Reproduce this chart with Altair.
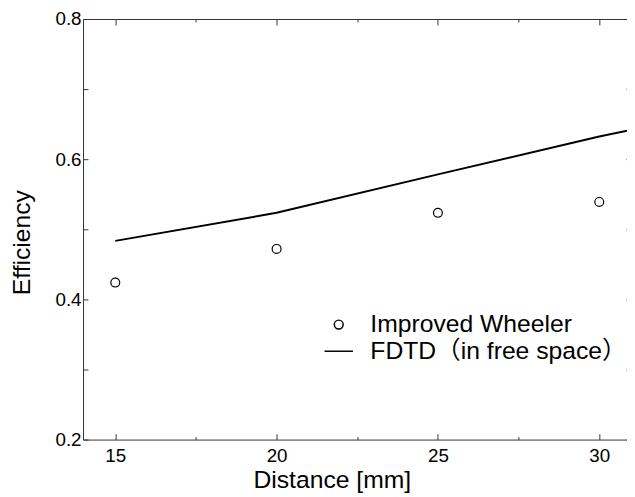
import altair as alt
import pandas as pd

# ---- data ----
wheeler_distance = [15, 20, 25, 30]
wheeler_efficiency = [0.424, 0.472, 0.5235, 0.539]

fdtd_distance = [15, 20, 25, 30, 31]
fdtd_efficiency = [0.4835, 0.5235, 0.5784, 0.6324, 0.642]

series_names = ["Improved Wheeler", "FDTD\uff08in free space\uff09"]

x_label_values = [15, 20, 25, 30]
x_tick_values = [15, 17.5, 20, 22.5, 25, 27.5, 30]
y_label_values = [0.2, 0.4, 0.6, 0.8]
y_tick_values = [0.2, 0.3, 0.4, 0.5, 0.6, 0.7, 0.8]

FONT = "Liberation Sans, Arial, Noto Sans CJK JP"
W, H = 551, 426
AX = "#333333"

fdtd_df = pd.DataFrame({"d": fdtd_distance, "e": fdtd_efficiency})
wheeler_df = pd.DataFrame({"d": wheeler_distance, "e": wheeler_efficiency,
                           "series": [series_names[0]] * len(wheeler_distance)})

xscale = alt.Scale(domain=[14, 30.86], nice=False, zero=False)
yscale = alt.Scale(domain=[0.2, 0.8], nice=False, zero=False)

x_major_cond = {"condition": {"test": "datum.value % 5 === 0", "value": 6}, "value": 3}

# layer 1: line + labelled axes (bottom / left)
line = alt.Chart(fdtd_df).mark_line(color="black", strokeWidth=2, clip=True).encode(
    x=alt.X("d:Q", scale=xscale, axis=alt.Axis(
        orient="bottom", values=x_label_values, format="d", ticks=False, tickSize=0,
        domain=True, domainColor=AX, domainWidth=1, grid=False,
        labelPadding=7, labelFontSize=19, labelColor="black", labelFlush=False,
        labelOverlap=False,
        title="Distance [mm]", titleFontSize=25, titleFontWeight="normal",
        titleColor="black", titleX=252, titleY=49, titleAngle=0,
        titleBaseline="alphabetic", titleAlign="center")),
    y=alt.Y("e:Q", scale=yscale, axis=alt.Axis(
        orient="left", values=y_label_values, format=".1f", ticks=False, tickSize=0,
        domain=True, domainColor=AX, domainWidth=1, grid=False,
        labelPadding=2, labelFontSize=19, labelColor="black", labelFlush=False,
        labelOverlap=False,
        title="Efficiency", titleFontSize=25, titleFontWeight="normal",
        titleColor="black", titleX=-54, titleY=226, titleAngle=270,
        titleBaseline="alphabetic", titleAlign="center")),
)

# layer 2: points + inward ticks on bottom and left edges + legend
points = alt.Chart(wheeler_df).mark_point(
    filled=False, color="black", strokeWidth=1.2, size=81, opacity=1
).encode(
    x=alt.X("d:Q", scale=xscale, title=None, axis=alt.Axis(
        orient="top", offset=-H, values=x_tick_values, labels=False, domain=False,
        grid=False, ticks=True, tickColor=AX, tickWidth=1, tickSize=x_major_cond)),
    y=alt.Y("e:Q", scale=yscale, title=None, axis=alt.Axis(
        orient="right", offset=-W, values=y_tick_values, labels=False, domain=False,
        grid=False, ticks=True, tickColor=AX, tickWidth=1, tickSize=5)),
    shape=alt.Shape("series:N", scale=alt.Scale(
        domain=series_names, range=["circle", "M-3.2,0H3.2"]),
        legend=alt.Legend(
            orient="none", legendX=246.5, legendY=297, title=None, padding=0,
            labelFontSize=25, labelFont=FONT, labelColor="black", labelOffset=19.5,
            symbolSize=81, symbolStrokeColor="black", symbolFillColor="transparent",
            symbolStrokeWidth=1.5, rowPadding=1, labelLimit=400)),
)

# layer 3: invisible marks carrying the top frame and the right-edge ticks
frame = alt.Chart(wheeler_df).mark_point(opacity=0).encode(
    x=alt.X("d:Q", scale=xscale, title=None, axis=alt.Axis(
        orient="bottom", offset=-H, values=x_tick_values, labels=False, domain=True,
        domainColor=AX, domainWidth=1, grid=False, ticks=True, tickColor=AX,
        tickWidth=1, tickSize=x_major_cond)),
    y=alt.Y("e:Q", scale=yscale, title=None, axis=alt.Axis(
        orient="left", offset=-W, values=y_tick_values, labels=False, domain=False,
        grid=False, ticks=True, tickColor=AX, tickWidth=1, tickSize=1)),
)

chart = alt.layer(line, points, frame).resolve_scale(
    x="shared", y="shared"
).resolve_axis(
    x="independent", y="independent"
).properties(
    width=W, height=H,
    autosize=alt.AutoSizeParams(type="none"),
    padding={"left": 76, "top": 8, "right": 0, "bottom": 55},
    background="white",
).configure_view(
    strokeWidth=0
).configure_axis(
    labelFont=FONT, titleFont=FONT
).configure_legend(
    labelFont=FONT
)

chart.save("out.html", embed_options={"renderer": "svg", "actions": False})
